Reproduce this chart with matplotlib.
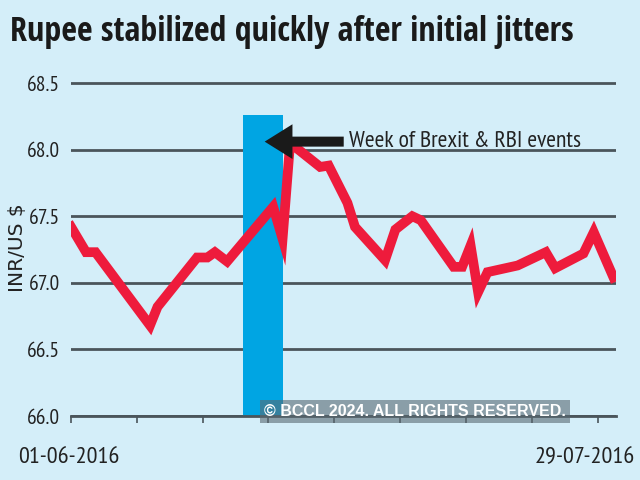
import matplotlib
matplotlib.use('Agg')
import matplotlib.pyplot as plt

# rupee vs dollar, June-July 2016 (days counted from 01-06-2016)
day = [0, 1.6, 2.6, 8.4, 9.2, 13.4, 14.5, 15.3, 16.6, 21.5, 22.5, 23.3,
       26.5, 27.4, 29.4, 30.2, 33.4, 34.5, 36.3, 37.2, 40.7, 41.6, 42.5,
       43.3, 44.3, 47.5, 50.5, 51.5, 54.5, 55.6, 57.7]
inr = [67.42, 67.23, 67.23, 66.68, 66.82, 67.19, 67.19, 67.23, 67.16, 67.57,
       67.33, 68.05, 67.87, 67.88, 67.60, 67.42, 67.17, 67.40, 67.50, 67.47,
       67.12, 67.12, 67.28, 66.93, 67.08, 67.13, 67.23, 67.11, 67.22, 67.38,
       67.04]

# brexit / RBI week highlight
week_start = 18.3
week_end = 22.5
week_top = 68.26

yticks = [66.0, 66.5, 67.0, 67.5, 68.0, 68.5]
xticks = [0, 7, 14, 21, 28, 35, 42, 49, 56]

narrow = ['PT Sans Narrow', 'DejaVu Sans']
title_font = ['Open Sans Condensed', 'PT Sans Narrow', 'DejaVu Sans']

bg = '#d4eef9'
grid_col = '#4a555b'
txt_col = '#222222'

fig = plt.figure(figsize=(6.4, 4.8), dpi=100, facecolor=bg)
ax = fig.add_axes([0.111, 0.1333, 0.852, 0.7215])
ax.set_facecolor(bg)

ax.bar((week_start + week_end) / 2, week_top - 66.0, width=week_end - week_start,
       bottom=66.0, color='#00a5e3', zorder=2)
ax.plot(day, inr, color='#ee1b3c', lw=7, solid_joinstyle='miter', zorder=3)

ax.set_xlim(0, 58)
ax.set_ylim(66.0, 68.6)
ax.set_yticks(yticks)
ax.set_yticklabels(['%.1f' % v for v in yticks], fontsize=15.5, family=narrow, color=txt_col)
ax.set_xticks(xticks)
ax.set_xticklabels([])
ax.tick_params(axis='y', length=0, pad=8)
ax.tick_params(axis='x', direction='out', length=5, width=1.2, color=grid_col)
ax.grid(axis='y', color=grid_col, lw=2, zorder=1)
for s in ['top', 'right', 'left']:
    ax.spines[s].set_visible(False)
ax.spines['bottom'].set_color(grid_col)
ax.spines['bottom'].set_linewidth(2)

fig.text(0.028, 0.485, 'INR/US $', fontsize=14.5, rotation=90, ha='center', va='center',
         color=txt_col)

# arrow and note
ax.annotate('', xy=(20.3, 68.06), xytext=(29.3, 68.06),
            arrowprops=dict(arrowstyle='simple,head_length=2.0,head_width=2.5,tail_width=0.72',
                            mutation_scale=10, color='#1a1a1a', lw=0), zorder=4)
ax.text(29.6, 68.06, 'Week of Brexit & RBI events', fontsize=17, family=narrow,
        va='center', ha='left', color=txt_col)

fig.text(0.108, 0.035, '01-06-2016', fontsize=17.5, family=narrow, ha='center', color=txt_col)
fig.text(0.914, 0.035, '29-07-2016', fontsize=17.5, family=narrow, ha='center', color=txt_col)

fig.text(0.016, 0.915, 'Rupee stabilized quickly after initial jitters', fontsize=24.5,
         family=title_font, fontweight='bold', color='#1a1a1a')

fig.text(0.649, 0.142, '\u00a9 BCCL 2024. ALL RIGHTS RESERVED.', fontsize=11.5,
         family=['Liberation Sans', 'DejaVu Sans'], fontweight='bold', color='white',
         ha='center', va='center',
         bbox=dict(boxstyle='square,pad=0.25', fc='#5a6a72', ec='none', alpha=0.6),
         zorder=5)

fig.savefig('out.png', dpi=100, facecolor=bg)
